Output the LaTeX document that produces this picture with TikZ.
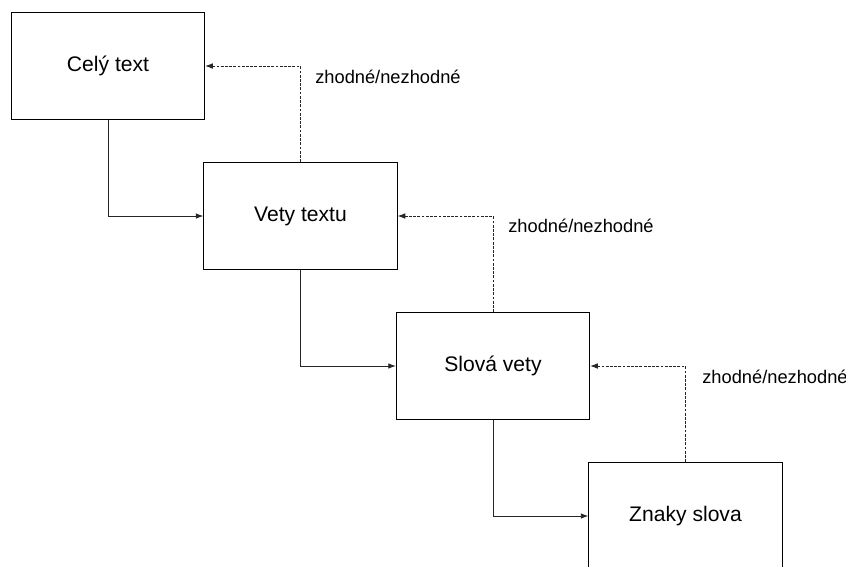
\documentclass[tikz,border=0pt]{standalone}
\usepackage{fontspec}
\setmainfont{Liberation Sans}
\usetikzlibrary{arrows.meta}
\tikzset{
    levelbox/.style={draw, line width=0.7pt, minimum width=4.825cm, minimum height=2.675cm,
        inner sep=0pt, font=\fontsize{15}{18}\selectfont},
    downarrow/.style={-{Latex[length=5.5pt, width=4pt]}, line width=0.7pt, black!85},
    backarrow/.style={-{Latex[length=5.5pt, width=4pt]}, line width=0.7pt, black!85,
        dash pattern=on 2pt off 1pt},
    matchlabel/.style={anchor=west, inner sep=0pt, font=\fontsize{13}{16}\selectfont}
}

\begin{document}
\begin{tikzpicture}[x=0.025cm, y=-0.025cm]

        \clip (0,0) rectangle (846,566);

        % ================= LEVELS =================
        \node[levelbox] (full)  at (108,66)  {Celý text};
        \node[levelbox] (sent)  at (300.5,216) {Vety textu};
        \node[levelbox] (words) at (493,366) {Slová vety};
        \node[levelbox] (chars) at (685.5,516) {Znaky slova};

        % ================= DOWNWARD STEPS =================
        \draw[downarrow] (full.south)  |- (sent.west);
        \draw[downarrow] (sent.south)  |- (words.west);
        \draw[downarrow] (words.south) |- (chars.west);

        % ================= FEEDBACK =================
        \draw[backarrow] (sent.north)  |- (full.east);
        \draw[backarrow] (words.north) |- (sent.east);
        \draw[backarrow] (chars.north) |- (words.east);

        \node[matchlabel] (match1) at (315,77)  {zhodné/nezhodné};
        \node[matchlabel] (match2) at (508,226) {zhodné/nezhodné};
        \node[matchlabel] (match3) at (702,377) {zhodné/nezhodné};

\end{tikzpicture}
\end{document}
